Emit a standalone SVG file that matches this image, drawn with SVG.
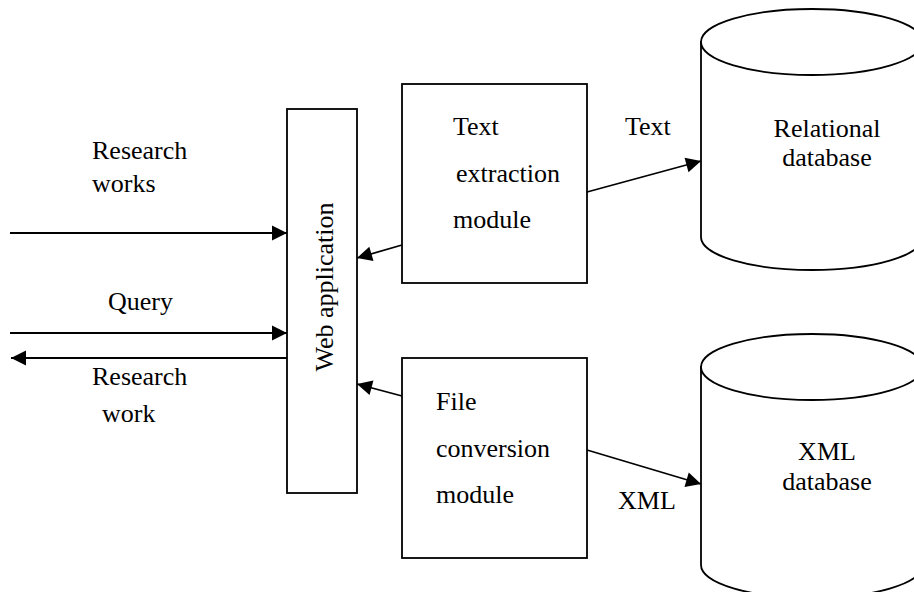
<svg xmlns="http://www.w3.org/2000/svg" width="914" height="592" viewBox="0 0 914 592">
<style>
.s{fill:#fff;stroke:#000;stroke-width:1.8}
.c{fill:none;stroke:#000;stroke-width:1.8}
.m{text-anchor:middle}
</style>
<defs>
<marker id="ah" markerUnits="userSpaceOnUse" markerWidth="18" markerHeight="18" viewBox="0 0 18 18" refX="16" refY="9" orient="auto">
<path d="M1,1.5 L16,9 L1,16.5 Z" fill="#000"/>
</marker>
</defs>
<rect width="914" height="592" fill="#fff"/>
<g font-family="Liberation Serif, Times New Roman, serif" font-size="26" fill="#000">
<g id="webapp">
<rect class="s" x="287" y="109" width="70" height="384"/>
<text class="m" transform="translate(333,287) rotate(-90)">Web application</text>
</g>
<g id="textmod">
<rect class="s" x="402" y="84" width="185" height="199"/>
<text x="453" y="135">Text</text>
<text x="456" y="182">extraction</text>
<text x="453" y="228">module</text>
</g>
<g id="filemod">
<rect class="s" x="402" y="358" width="185" height="200"/>
<text x="436" y="410">File</text>
<text x="436" y="457">conversion</text>
<text x="436" y="503">module</text>
</g>
<g id="reldb">
<path class="s" d="M701,42 L701,237 A111,33 0 0 0 923,237 L923,42 Z"/>
<ellipse class="s" cx="812" cy="42" rx="111" ry="33"/>
<text class="m" x="827" y="137">Relational</text>
<text class="m" x="827" y="166">database</text>
</g>
<g id="xmldb">
<path class="s" d="M701,367 L701,565 A111,33 0 0 0 923,565 L923,367 Z"/>
<ellipse class="s" cx="812" cy="367" rx="111" ry="33"/>
<text class="m" x="827" y="460">XML</text>
<text class="m" x="827" y="490">database</text>
</g>
<g id="connectors">
<line class="c" x1="10" y1="233" x2="287" y2="233" marker-end="url(#ah)"/>
<line class="c" x1="10" y1="333" x2="287" y2="333" marker-end="url(#ah)"/>
<line class="c" x1="287" y1="358" x2="11" y2="358" marker-end="url(#ah)"/>
<line class="c" x1="402" y1="245" x2="357" y2="258" marker-end="url(#ah)"/>
<line class="c" x1="402" y1="396" x2="357" y2="384" marker-end="url(#ah)"/>
<line class="c" x1="587" y1="192" x2="701" y2="161" marker-end="url(#ah)"/>
<line class="c" x1="587" y1="450" x2="701" y2="484" marker-end="url(#ah)"/>
</g>
<g id="labels">
<text x="92" y="159">Research</text>
<text x="92" y="192">works</text>
<text x="108" y="310">Query</text>
<text x="92" y="385">Research</text>
<text x="102" y="422">work</text>
<text x="625" y="135">Text</text>
<text x="618" y="509">XML</text>
</g>
</g>
</svg>
